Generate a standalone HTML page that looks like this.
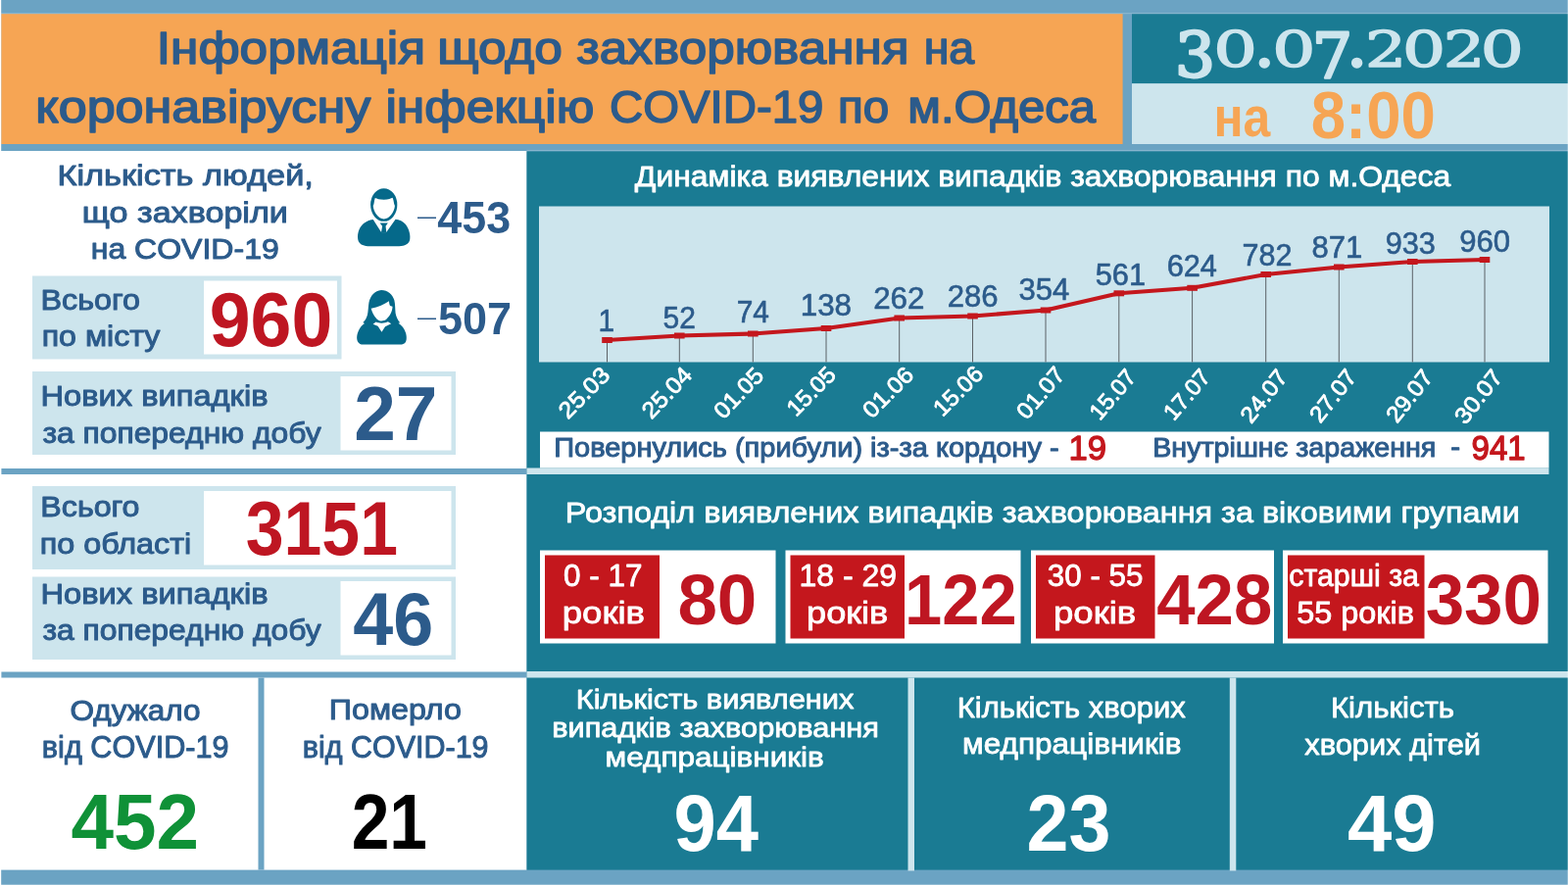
<!DOCTYPE html>
<html lang="uk">
<head>
<meta charset="utf-8">
<title>Інформація щодо захворювання на коронавірусну інфекцію COVID-19 по м.Одеса</title>
<style>
html,body{margin:0;padding:0;background:#6ba3c3;overflow:hidden}
svg{display:block}
text{white-space:pre}
</style>
</head>
<body>
<svg width="1600" height="903" viewBox="0 0 1600 903">
<rect x="0" y="0" width="1600" height="903" fill="#6ba3c3"/>
<rect x="1.2" y="14" width="1144.4" height="133" fill="#f6a554"/>
<rect x="0" y="13.2" width="1600" height="1" fill="#8fbad1"/>
<rect x="1155" y="14.3" width="445" height="70.9" fill="#1a7b93"/>
<rect x="1155" y="85.2" width="445" height="61.8" fill="#cde5ed"/>
<rect x="0" y="154" width="537.5" height="733.6" fill="#ffffff"/>
<rect x="0" y="0" width="1.2" height="903" fill="#ffffff"/>
<rect x="1.4" y="478" width="536.1" height="6" fill="#6ba3c3"/>
<rect x="1.4" y="685.5" width="536.1" height="6" fill="#6ba3c3"/>
<rect x="263.5" y="691.5" width="6" height="196.1" fill="#6ba3c3"/>
<rect x="537.5" y="153.2" width="1062.5" height="1.2" fill="#8fbad1"/>
<rect x="537.5" y="154.4" width="1062.5" height="733.2" fill="#1a7b93"/>
<rect x="537.5" y="477.5" width="1043" height="6.5" fill="#cde5ed"/>
<rect x="537.5" y="685" width="1062.5" height="6.5" fill="#cde5ed"/>
<rect x="926.5" y="691.5" width="6.5" height="197" fill="#cde5ed"/>
<rect x="1254.8" y="691.5" width="6.5" height="197" fill="#cde5ed"/>
<rect x="550" y="210.5" width="1031" height="159" fill="#cde5ed"/>
<rect x="551" y="440.5" width="1029.5" height="37" fill="#ffffff"/>
<rect x="33" y="281.5" width="315.5" height="85" fill="#cde5ed"/>
<rect x="208" y="286.5" width="136" height="75" fill="#ffffff"/>
<rect x="33" y="379" width="432" height="85" fill="#cde5ed"/>
<rect x="347.5" y="384" width="113" height="75.5" fill="#ffffff"/>
<rect x="33" y="496" width="432" height="85" fill="#cde5ed"/>
<rect x="208" y="501" width="252.5" height="75.5" fill="#ffffff"/>
<rect x="33" y="588.5" width="432" height="84.5" fill="#cde5ed"/>
<rect x="347.5" y="593" width="113" height="75.5" fill="#ffffff"/>
<rect x="551" y="561.5" width="240.5" height="95" fill="#ffffff"/>
<rect x="556" y="566.5" width="117" height="85" fill="#c4171d"/>
<rect x="801.5" y="561.5" width="240" height="95" fill="#ffffff"/>
<rect x="806.5" y="566.5" width="116.5" height="85" fill="#c4171d"/>
<rect x="1052" y="561.5" width="248" height="95" fill="#ffffff"/>
<rect x="1057" y="566.5" width="121.5" height="85" fill="#c4171d"/>
<rect x="1309" y="561.5" width="270.5" height="95" fill="#ffffff"/>
<rect x="1314" y="566.5" width="139.5" height="85" fill="#c4171d"/>
<line x1="619.5" y1="347" x2="619.5" y2="369.5" stroke="#5b6166" stroke-width="1"/>
<line x1="693.3" y1="342.5" x2="693.3" y2="369.5" stroke="#5b6166" stroke-width="1"/>
<line x1="768.3" y1="340.5" x2="768.3" y2="369.5" stroke="#5b6166" stroke-width="1"/>
<line x1="843" y1="335" x2="843" y2="369.5" stroke="#5b6166" stroke-width="1"/>
<line x1="917.7" y1="324.5" x2="917.7" y2="369.5" stroke="#5b6166" stroke-width="1"/>
<line x1="992.5" y1="322.5" x2="992.5" y2="369.5" stroke="#5b6166" stroke-width="1"/>
<line x1="1067" y1="316.5" x2="1067" y2="369.5" stroke="#5b6166" stroke-width="1"/>
<line x1="1141.8" y1="299.3" x2="1141.8" y2="369.5" stroke="#5b6166" stroke-width="1"/>
<line x1="1216.6" y1="293.8" x2="1216.6" y2="369.5" stroke="#5b6166" stroke-width="1"/>
<line x1="1291.7" y1="280" x2="1291.7" y2="369.5" stroke="#5b6166" stroke-width="1"/>
<line x1="1366.3" y1="272.5" x2="1366.3" y2="369.5" stroke="#5b6166" stroke-width="1"/>
<line x1="1441.3" y1="267" x2="1441.3" y2="369.5" stroke="#5b6166" stroke-width="1"/>
<line x1="1515" y1="265" x2="1515" y2="369.5" stroke="#5b6166" stroke-width="1"/>
<polyline points="619.5,347 693.3,342.5 768.3,340.5 843,335 917.7,324.5 992.5,322.5 1067,316.5 1141.8,299.3 1216.6,293.8 1291.7,280 1366.3,272.5 1441.3,267 1515,265" fill="none" stroke="#c4171d" stroke-width="4.1" stroke-linejoin="round"/>
<rect x="614.2" y="344" width="10.6" height="6" fill="#c4171d"/>
<rect x="688" y="339.5" width="10.6" height="6" fill="#c4171d"/>
<rect x="763" y="337.5" width="10.6" height="6" fill="#c4171d"/>
<rect x="837.7" y="332" width="10.6" height="6" fill="#c4171d"/>
<rect x="912.4" y="321.5" width="10.6" height="6" fill="#c4171d"/>
<rect x="987.2" y="319.5" width="10.6" height="6" fill="#c4171d"/>
<rect x="1061.7" y="313.5" width="10.6" height="6" fill="#c4171d"/>
<rect x="1136.5" y="296.3" width="10.6" height="6" fill="#c4171d"/>
<rect x="1211.3" y="290.8" width="10.6" height="6" fill="#c4171d"/>
<rect x="1286.4" y="277" width="10.6" height="6" fill="#c4171d"/>
<rect x="1361" y="269.5" width="10.6" height="6" fill="#c4171d"/>
<rect x="1436" y="264" width="10.6" height="6" fill="#c4171d"/>
<rect x="1509.7" y="262" width="10.6" height="6" fill="#c4171d"/>
<g transform="translate(355 185) scale(0.08306)" fill="#05698a">
<path d="M310 470C250 478 190 505 150 570C120 620 112 700 132 740C150 778 200 797 270 797L630 797C700 795 745 772 760 722C772 670 755 590 710 530C680 495 630 470 585 468L470 630L412 630Z"/>
<path d="M393 512L492 512L464 550L474 634L408 634L423 550Z"/>
<ellipse cx="442" cy="289" rx="164" ry="203"/>
<path fill="#ffffff" d="M334 204C320 240 326 275 310 302C316 380 374 462 442 464C512 462 570 380 577 302C563 275 566 238 549 202C528 211 500 224 442 226C390 224 358 214 334 204Z"/>
</g>
<g transform="translate(355 288) scale(0.08306)" fill="#05698a">
<path d="M410 95C330 100 275 165 258 250C250 300 250 360 240 400C230 440 210 470 185 495L205 505C170 525 135 575 118 630C105 675 105 735 150 758C160 763 172 765 185 765L650 765C665 765 690 758 705 740C725 715 722 660 712 625C695 570 665 530 620 503L640 497C610 465 592 420 585 380C580 330 582 270 570 220C550 150 490 95 410 95Z"/>
<path fill="#ffffff" d="M285 322C370 305 450 270 505 232C508 255 510 275 518 288L548 298C548 345 525 405 470 458C450 470 430 475 415 475C390 475 370 462 355 450C315 410 295 360 285 322Z"/>
<path fill="#ffffff" d="M345 488L308 515L368 538L415 612L458 545L532 508L492 485C460 506 380 508 345 488Z"/>
</g>

<text y="65.4" font-size="46.8" fill="#2c5b8b" font-family="'Liberation Sans', sans-serif" font-weight="400" stroke="#2c5b8b" stroke-width="1.6" stroke-linejoin="round"><tspan x="159.88" textLength="274.05" lengthAdjust="spacingAndGlyphs">Інформація</tspan> <tspan x="446.19" textLength="127.74" lengthAdjust="spacingAndGlyphs">щодо</tspan> <tspan x="588.38" textLength="339.23" lengthAdjust="spacingAndGlyphs">захворювання</tspan> <tspan x="942.68" textLength="51.52" lengthAdjust="spacingAndGlyphs">на</tspan></text>
<text y="124.9" font-size="46.8" fill="#2c5b8b" font-family="'Liberation Sans', sans-serif" font-weight="400" stroke="#2c5b8b" stroke-width="1.6" stroke-linejoin="round"><tspan x="36.30" textLength="341.91" lengthAdjust="spacingAndGlyphs">коронавірусну</tspan> <tspan x="393.43" textLength="212.87" lengthAdjust="spacingAndGlyphs">інфекцію</tspan> <tspan x="622.07" textLength="218.19" lengthAdjust="spacingAndGlyphs">COVID-19</tspan> <tspan x="855.13" textLength="52.17" lengthAdjust="spacingAndGlyphs">по</tspan> <tspan x="926.31" textLength="191.69" lengthAdjust="spacingAndGlyphs">м.Одеса</tspan></text>
<text fill="#cde5ed" font-family="'DejaVu Serif', 'Liberation Serif', serif" font-weight="400" stroke="#cde5ed" stroke-width="1.4" stroke-linejoin="round"><tspan x="1199.09" y="78.57" font-size="63.84" textLength="41.07" lengthAdjust="spacingAndGlyphs" stroke-width="2.6">3</tspan><tspan x="1238.18" y="68.37" font-size="50.36" textLength="44.70" lengthAdjust="spacingAndGlyphs">0</tspan><tspan x="1278.39" y="68.03" font-size="73.58" textLength="24.03" lengthAdjust="spacingAndGlyphs">.</tspan><tspan x="1298.33" y="68.37" font-size="50.36" textLength="44.10" lengthAdjust="spacingAndGlyphs">0</tspan><tspan x="1338.65" y="79.47" font-size="64.37" textLength="41.49" lengthAdjust="spacingAndGlyphs" stroke-width="2.6">7</tspan><tspan x="1372.44" y="68.03" font-size="73.58" textLength="24.24" lengthAdjust="spacingAndGlyphs">.</tspan><tspan x="1392.97" y="68.33" font-size="50.09" textLength="42.20" lengthAdjust="spacingAndGlyphs">2</tspan><tspan x="1431.03" y="68.37" font-size="50.36" textLength="44.10" lengthAdjust="spacingAndGlyphs">0</tspan><tspan x="1472.83" y="68.33" font-size="50.09" textLength="42.71" lengthAdjust="spacingAndGlyphs">2</tspan><tspan x="1510.83" y="68.37" font-size="50.36" textLength="44.10" lengthAdjust="spacingAndGlyphs">0</tspan></text>
<text x="1238.40" y="138.8" font-size="57" fill="#f6a554" textLength="57.82" lengthAdjust="spacingAndGlyphs" font-weight="700" font-family="'Liberation Sans', sans-serif">на</text>
<text x="1337.75" y="140.7" font-size="69" fill="#f6a554" textLength="127.20" lengthAdjust="spacingAndGlyphs" font-weight="700" font-family="'Liberation Sans', sans-serif">8:00</text>
<text x="58.46" y="188.6" font-size="30" fill="#2c5b8b" textLength="261.41" lengthAdjust="spacingAndGlyphs" font-weight="400" font-family="'Liberation Sans', sans-serif" stroke="#2c5b8b" stroke-width="1" stroke-linejoin="round">Кількість людей,</text>
<text x="83.85" y="226.6" font-size="30" fill="#2c5b8b" textLength="210.08" lengthAdjust="spacingAndGlyphs" font-weight="400" font-family="'Liberation Sans', sans-serif" stroke="#2c5b8b" stroke-width="1" stroke-linejoin="round">що захворіли</text>
<text x="92.72" y="263.6" font-size="30" fill="#2c5b8b" textLength="192.05" lengthAdjust="spacingAndGlyphs" font-weight="400" font-family="'Liberation Sans', sans-serif" stroke="#2c5b8b" stroke-width="1" stroke-linejoin="round">на COVID-19</text>
<text x="41.60" y="315.5" font-size="30" fill="#2c5b8b" textLength="101.44" lengthAdjust="spacingAndGlyphs" font-weight="400" font-family="'Liberation Sans', sans-serif" stroke="#2c5b8b" stroke-width="1" stroke-linejoin="round">Всього</text>
<text x="42.71" y="353" font-size="30" fill="#2c5b8b" textLength="120.64" lengthAdjust="spacingAndGlyphs" font-weight="400" font-family="'Liberation Sans', sans-serif" stroke="#2c5b8b" stroke-width="1" stroke-linejoin="round">по місту</text>
<text x="213.68" y="353.2" font-size="78" fill="#be1622" textLength="125.60" lengthAdjust="spacingAndGlyphs" font-weight="700" font-family="'Liberation Sans', sans-serif">960</text>
<text fill="#2c5b8b" font-family="'Liberation Sans', sans-serif" font-weight="400"><tspan x="426.00" y="228.30" font-size="22.78" textLength="19.01" lengthAdjust="spacingAndGlyphs">–</tspan></text>
<text x="446.36" y="238.3" font-size="47" fill="#2c5b8b" textLength="74.71" lengthAdjust="spacingAndGlyphs" font-weight="700" font-family="'Liberation Sans', sans-serif">453</text>
<text fill="#2c5b8b" font-family="'Liberation Sans', sans-serif" font-weight="400"><tspan x="426.00" y="331.40" font-size="22.78" textLength="19.01" lengthAdjust="spacingAndGlyphs">–</tspan></text>
<text x="446.90" y="341.2" font-size="47" fill="#2c5b8b" textLength="75.10" lengthAdjust="spacingAndGlyphs" font-weight="700" font-family="'Liberation Sans', sans-serif">507</text>
<text x="41.57" y="413.75" font-size="30" fill="#2c5b8b" textLength="231.91" lengthAdjust="spacingAndGlyphs" font-weight="400" font-family="'Liberation Sans', sans-serif" stroke="#2c5b8b" stroke-width="1" stroke-linejoin="round">Нових випадків</text>
<text x="43.40" y="452" font-size="30" fill="#2c5b8b" textLength="284.22" lengthAdjust="spacingAndGlyphs" font-weight="400" font-family="'Liberation Sans', sans-serif" stroke="#2c5b8b" stroke-width="1" stroke-linejoin="round">за попередню добу</text>
<text x="361.13" y="448.5" font-size="78" fill="#2c5b8b" textLength="85.24" lengthAdjust="spacingAndGlyphs" font-weight="700" font-family="'Liberation Sans', sans-serif">27</text>
<text x="41.35" y="527" font-size="30" fill="#2c5b8b" textLength="101.18" lengthAdjust="spacingAndGlyphs" font-weight="400" font-family="'Liberation Sans', sans-serif" stroke="#2c5b8b" stroke-width="1" stroke-linejoin="round">Всього</text>
<text x="40.70" y="564.5" font-size="30" fill="#2c5b8b" textLength="154.53" lengthAdjust="spacingAndGlyphs" font-weight="400" font-family="'Liberation Sans', sans-serif" stroke="#2c5b8b" stroke-width="1" stroke-linejoin="round">по області</text>
<text x="250.71" y="566" font-size="78" fill="#be1622" textLength="155.25" lengthAdjust="spacingAndGlyphs" font-weight="700" font-family="'Liberation Sans', sans-serif">3151</text>
<text x="41.57" y="615.5" font-size="30" fill="#2c5b8b" textLength="231.91" lengthAdjust="spacingAndGlyphs" font-weight="400" font-family="'Liberation Sans', sans-serif" stroke="#2c5b8b" stroke-width="1" stroke-linejoin="round">Нових випадків</text>
<text x="43.40" y="653" font-size="30" fill="#2c5b8b" textLength="284.22" lengthAdjust="spacingAndGlyphs" font-weight="400" font-family="'Liberation Sans', sans-serif" stroke="#2c5b8b" stroke-width="1" stroke-linejoin="round">за попередню добу</text>
<text x="360.28" y="657.5" font-size="76" fill="#2c5b8b" textLength="82.00" lengthAdjust="spacingAndGlyphs" font-weight="700" font-family="'Liberation Sans', sans-serif">46</text>
<text x="71.45" y="734.5" font-size="30" fill="#2c5b8b" textLength="133.14" lengthAdjust="spacingAndGlyphs" font-weight="400" font-family="'Liberation Sans', sans-serif" stroke="#2c5b8b" stroke-width="1" stroke-linejoin="round">Одужало</text>
<text x="42.85" y="772.5" font-size="31" fill="#2c5b8b" textLength="190.68" lengthAdjust="spacingAndGlyphs" font-weight="400" font-family="'Liberation Sans', sans-serif" stroke="#2c5b8b" stroke-width="1" stroke-linejoin="round">від COVID-19</text>
<text x="72.45" y="865.6" font-size="80" fill="#0f9137" textLength="130.63" lengthAdjust="spacingAndGlyphs" font-weight="700" font-family="'Liberation Sans', sans-serif">452</text>
<text x="335.85" y="734.25" font-size="30" fill="#2c5b8b" textLength="134.95" lengthAdjust="spacingAndGlyphs" font-weight="400" font-family="'Liberation Sans', sans-serif" stroke="#2c5b8b" stroke-width="1" stroke-linejoin="round">Померло</text>
<text x="308.86" y="772.5" font-size="31" fill="#2c5b8b" textLength="189.66" lengthAdjust="spacingAndGlyphs" font-weight="400" font-family="'Liberation Sans', sans-serif" stroke="#2c5b8b" stroke-width="1" stroke-linejoin="round">від COVID-19</text>
<text x="358.68" y="866" font-size="80" fill="#000000" textLength="77.33" lengthAdjust="spacingAndGlyphs" font-weight="700" font-family="'Liberation Sans', sans-serif">21</text>
<text x="647.87" y="189.6" font-size="28.8" fill="#ffffff" textLength="832.35" lengthAdjust="spacingAndGlyphs" font-weight="400" font-family="'Liberation Sans', sans-serif" stroke="#ffffff" stroke-width="0.8" stroke-linejoin="round">Динаміка виявлених випадків захворювання по м.Одеса</text>
<text x="610.57" y="337.6" font-size="31" fill="#2c5b8b" textLength="16.63" lengthAdjust="spacingAndGlyphs" font-weight="400" font-family="'Liberation Sans', sans-serif" stroke="#2c5b8b" stroke-width="0.6" stroke-linejoin="round">1</text>
<text x="676.53" y="334.6" font-size="31" fill="#2c5b8b" textLength="33.33" lengthAdjust="spacingAndGlyphs" font-weight="400" font-family="'Liberation Sans', sans-serif" stroke="#2c5b8b" stroke-width="0.6" stroke-linejoin="round">52</text>
<text x="751.71" y="329.1" font-size="31" fill="#2c5b8b" textLength="33.25" lengthAdjust="spacingAndGlyphs" font-weight="400" font-family="'Liberation Sans', sans-serif" stroke="#2c5b8b" stroke-width="0.6" stroke-linejoin="round">74</text>
<text x="816.73" y="322.1" font-size="31" fill="#2c5b8b" textLength="52.34" lengthAdjust="spacingAndGlyphs" font-weight="400" font-family="'Liberation Sans', sans-serif" stroke="#2c5b8b" stroke-width="0.6" stroke-linejoin="round">138</text>
<text x="891.15" y="315.1" font-size="31" fill="#2c5b8b" textLength="52.25" lengthAdjust="spacingAndGlyphs" font-weight="400" font-family="'Liberation Sans', sans-serif" stroke="#2c5b8b" stroke-width="0.6" stroke-linejoin="round">262</text>
<text x="966.66" y="313.35" font-size="31" fill="#2c5b8b" textLength="51.90" lengthAdjust="spacingAndGlyphs" font-weight="400" font-family="'Liberation Sans', sans-serif" stroke="#2c5b8b" stroke-width="0.6" stroke-linejoin="round">286</text>
<text x="1039.50" y="305.85" font-size="31" fill="#2c5b8b" textLength="51.72" lengthAdjust="spacingAndGlyphs" font-weight="400" font-family="'Liberation Sans', sans-serif" stroke="#2c5b8b" stroke-width="0.6" stroke-linejoin="round">354</text>
<text x="1117.76" y="290.85" font-size="31" fill="#2c5b8b" textLength="51.29" lengthAdjust="spacingAndGlyphs" font-weight="400" font-family="'Liberation Sans', sans-serif" stroke="#2c5b8b" stroke-width="0.6" stroke-linejoin="round">561</text>
<text x="1190.68" y="282.1" font-size="31" fill="#2c5b8b" textLength="51.29" lengthAdjust="spacingAndGlyphs" font-weight="400" font-family="'Liberation Sans', sans-serif" stroke="#2c5b8b" stroke-width="0.6" stroke-linejoin="round">624</text>
<text x="1267.44" y="270.85" font-size="31" fill="#2c5b8b" textLength="50.93" lengthAdjust="spacingAndGlyphs" font-weight="400" font-family="'Liberation Sans', sans-serif" stroke="#2c5b8b" stroke-width="0.6" stroke-linejoin="round">782</text>
<text x="1338.50" y="263.35" font-size="31" fill="#2c5b8b" textLength="51.81" lengthAdjust="spacingAndGlyphs" font-weight="400" font-family="'Liberation Sans', sans-serif" stroke="#2c5b8b" stroke-width="0.6" stroke-linejoin="round">871</text>
<text x="1413.68" y="258.85" font-size="31" fill="#2c5b8b" textLength="51.11" lengthAdjust="spacingAndGlyphs" font-weight="400" font-family="'Liberation Sans', sans-serif" stroke="#2c5b8b" stroke-width="0.6" stroke-linejoin="round">933</text>
<text x="1489.16" y="257.1" font-size="31" fill="#2c5b8b" textLength="51.90" lengthAdjust="spacingAndGlyphs" font-weight="400" font-family="'Liberation Sans', sans-serif" stroke="#2c5b8b" stroke-width="0.6" stroke-linejoin="round">960</text>
<text transform="translate(579.60 428.43) rotate(-45)" x="0.00" y="0" font-size="23.5" fill="#ffffff" stroke="#ffffff" stroke-width="0.8" stroke-linejoin="round" font-family="'Liberation Sans', sans-serif" font-weight="400" textLength="62.42" lengthAdjust="spacingAndGlyphs">25.03</text>
<text transform="translate(664.65 428.48) rotate(-46)" x="0.00" y="0" font-size="23.5" fill="#ffffff" stroke="#ffffff" stroke-width="0.8" stroke-linejoin="round" font-family="'Liberation Sans', sans-serif" font-weight="400" textLength="61.92" lengthAdjust="spacingAndGlyphs">25.04</text>
<text transform="translate(738.13 428.65) rotate(-46)" x="0.00" y="0" font-size="23.5" fill="#ffffff" stroke="#ffffff" stroke-width="0.8" stroke-linejoin="round" font-family="'Liberation Sans', sans-serif" font-weight="400" textLength="61.43" lengthAdjust="spacingAndGlyphs">01.05</text>
<text transform="translate(812.18 426.02) rotate(-45)" x="0.00" y="0" font-size="23.5" fill="#ffffff" stroke="#ffffff" stroke-width="0.8" stroke-linejoin="round" font-family="'Liberation Sans', sans-serif" font-weight="400" textLength="59.59" lengthAdjust="spacingAndGlyphs">15.05</text>
<text transform="translate(889.77 427.88) rotate(-45)" x="0.00" y="0" font-size="23.5" fill="#ffffff" stroke="#ffffff" stroke-width="0.8" stroke-linejoin="round" font-family="'Liberation Sans', sans-serif" font-weight="400" textLength="62.15" lengthAdjust="spacingAndGlyphs">01.06</text>
<text transform="translate(961.73 426.00) rotate(-45)" x="0.00" y="0" font-size="23.5" fill="#ffffff" stroke="#ffffff" stroke-width="0.8" stroke-linejoin="round" font-family="'Liberation Sans', sans-serif" font-weight="400" textLength="60.76" lengthAdjust="spacingAndGlyphs">15.06</text>
<text transform="translate(1047.78 429.15) rotate(-49)" x="0.00" y="0" font-size="23.5" fill="#ffffff" stroke="#ffffff" stroke-width="0.8" stroke-linejoin="round" font-family="'Liberation Sans', sans-serif" font-weight="400" textLength="61.24" lengthAdjust="spacingAndGlyphs">01.07</text>
<text transform="translate(1122.32 429.98) rotate(-49.5)" x="0.00" y="0" font-size="23.5" fill="#ffffff" stroke="#ffffff" stroke-width="0.8" stroke-linejoin="round" font-family="'Liberation Sans', sans-serif" font-weight="400" textLength="58.76" lengthAdjust="spacingAndGlyphs">15.07</text>
<text transform="translate(1197.85 430.15) rotate(-49.5)" x="0.00" y="0" font-size="23.5" fill="#ffffff" stroke="#ffffff" stroke-width="0.8" stroke-linejoin="round" font-family="'Liberation Sans', sans-serif" font-weight="400" textLength="59.16" lengthAdjust="spacingAndGlyphs">17.07</text>
<text transform="translate(1276.85 433.17) rotate(-51.5)" x="0.00" y="0" font-size="23.5" fill="#ffffff" stroke="#ffffff" stroke-width="0.8" stroke-linejoin="round" font-family="'Liberation Sans', sans-serif" font-weight="400" textLength="61.42" lengthAdjust="spacingAndGlyphs">24.07</text>
<text transform="translate(1347.20 432.75) rotate(-51.5)" x="0.00" y="0" font-size="23.5" fill="#ffffff" stroke="#ffffff" stroke-width="0.8" stroke-linejoin="round" font-family="'Liberation Sans', sans-serif" font-weight="400" textLength="61.37" lengthAdjust="spacingAndGlyphs">27.07</text>
<text transform="translate(1425.52 432.83) rotate(-51.5)" x="0.00" y="0" font-size="23.5" fill="#ffffff" stroke="#ffffff" stroke-width="0.8" stroke-linejoin="round" font-family="'Liberation Sans', sans-serif" font-weight="400" textLength="60.83" lengthAdjust="spacingAndGlyphs">29.07</text>
<text transform="translate(1495.17 434.25) rotate(-51.5)" x="0.00" y="0" font-size="23.5" fill="#ffffff" stroke="#ffffff" stroke-width="0.8" stroke-linejoin="round" font-family="'Liberation Sans', sans-serif" font-weight="400" textLength="63.02" lengthAdjust="spacingAndGlyphs">30.07</text>
<text x="565.26" y="466" font-size="27.8" fill="#2c5b8b" textLength="515.36" lengthAdjust="spacingAndGlyphs" font-weight="400" font-family="'Liberation Sans', sans-serif" stroke="#2c5b8b" stroke-width="1" stroke-linejoin="round">Повернулись (прибули) із-за кордону -</text>
<text x="1090.55" y="469.2" font-size="35.5" fill="#c4171d" textLength="38.58" lengthAdjust="spacingAndGlyphs" font-weight="400" font-family="'Liberation Sans', sans-serif" stroke="#c4171d" stroke-width="1.3" stroke-linejoin="round">19</text>
<text x="1176.28" y="466" font-size="27.8" fill="#2c5b8b" textLength="289.11" lengthAdjust="spacingAndGlyphs" font-weight="400" font-family="'Liberation Sans', sans-serif" stroke="#2c5b8b" stroke-width="1" stroke-linejoin="round">Внутрішнє зараження</text>
<text x="1480.32" y="466.25" font-size="29" fill="#2c5b8b" textLength="9.85" lengthAdjust="spacingAndGlyphs" font-weight="400" font-family="'Liberation Sans', sans-serif" stroke="#2c5b8b" stroke-width="1" stroke-linejoin="round">-</text>
<text x="1501.57" y="469.2" font-size="35.5" fill="#c4171d" textLength="55.08" lengthAdjust="spacingAndGlyphs" font-weight="400" font-family="'Liberation Sans', sans-serif" stroke="#c4171d" stroke-width="1.3" stroke-linejoin="round">941</text>
<text x="576.75" y="532.8" font-size="28.8" fill="#ffffff" textLength="974.19" lengthAdjust="spacingAndGlyphs" font-weight="400" font-family="'Liberation Sans', sans-serif" stroke="#ffffff" stroke-width="0.8" stroke-linejoin="round">Розподіл виявлених випадків захворювання за віковими групами</text>
<text x="575.07" y="598" font-size="31" fill="#ffffff" textLength="80.47" lengthAdjust="spacingAndGlyphs" font-weight="400" font-family="'Liberation Sans', sans-serif" stroke="#ffffff" stroke-width="0.8" stroke-linejoin="round">0 - 17</text>
<text x="573.78" y="636.25" font-size="31" fill="#ffffff" textLength="84.23" lengthAdjust="spacingAndGlyphs" font-weight="400" font-family="'Liberation Sans', sans-serif" stroke="#ffffff" stroke-width="0.8" stroke-linejoin="round">років</text>
<text x="691.42" y="636.5" font-size="73" fill="#be1622" textLength="80.94" lengthAdjust="spacingAndGlyphs" font-weight="700" font-family="'Liberation Sans', sans-serif">80</text>
<text x="815.44" y="598" font-size="31" fill="#ffffff" textLength="99.53" lengthAdjust="spacingAndGlyphs" font-weight="400" font-family="'Liberation Sans', sans-serif" stroke="#ffffff" stroke-width="0.8" stroke-linejoin="round">18 - 29</text>
<text x="823.06" y="636.25" font-size="31" fill="#ffffff" textLength="83.19" lengthAdjust="spacingAndGlyphs" font-weight="400" font-family="'Liberation Sans', sans-serif" stroke="#ffffff" stroke-width="0.8" stroke-linejoin="round">років</text>
<text x="923.11" y="636.5" font-size="73" fill="#be1622" textLength="114.52" lengthAdjust="spacingAndGlyphs" font-weight="700" font-family="'Liberation Sans', sans-serif">122</text>
<text x="1068.83" y="598" font-size="31" fill="#ffffff" textLength="97.53" lengthAdjust="spacingAndGlyphs" font-weight="400" font-family="'Liberation Sans', sans-serif" stroke="#ffffff" stroke-width="0.8" stroke-linejoin="round">30 - 55</text>
<text x="1075.03" y="636.25" font-size="31" fill="#ffffff" textLength="84.23" lengthAdjust="spacingAndGlyphs" font-weight="400" font-family="'Liberation Sans', sans-serif" stroke="#ffffff" stroke-width="0.8" stroke-linejoin="round">років</text>
<text x="1180.28" y="636.5" font-size="73" fill="#be1622" textLength="118.04" lengthAdjust="spacingAndGlyphs" font-weight="700" font-family="'Liberation Sans', sans-serif">428</text>
<text x="1315.27" y="598" font-size="31" fill="#ffffff" textLength="132.64" lengthAdjust="spacingAndGlyphs" font-weight="400" font-family="'Liberation Sans', sans-serif" stroke="#ffffff" stroke-width="0.8" stroke-linejoin="round">старші за</text>
<text x="1323.20" y="636.25" font-size="31" fill="#ffffff" textLength="119.66" lengthAdjust="spacingAndGlyphs" font-weight="400" font-family="'Liberation Sans', sans-serif" stroke="#ffffff" stroke-width="0.8" stroke-linejoin="round">55 років</text>
<text x="1454.63" y="636.5" font-size="73" fill="#be1622" textLength="118.42" lengthAdjust="spacingAndGlyphs" font-weight="700" font-family="'Liberation Sans', sans-serif">330</text>
<text x="587.80" y="723" font-size="28" fill="#ffffff" textLength="283.50" lengthAdjust="spacingAndGlyphs" font-weight="400" font-family="'Liberation Sans', sans-serif" stroke="#ffffff" stroke-width="0.8" stroke-linejoin="round">Кількість виявлених</text>
<text x="563.17" y="751.8" font-size="28" fill="#ffffff" textLength="333.85" lengthAdjust="spacingAndGlyphs" font-weight="400" font-family="'Liberation Sans', sans-serif" stroke="#ffffff" stroke-width="0.8" stroke-linejoin="round">випадків захворювання</text>
<text x="617.62" y="781.8" font-size="28" fill="#ffffff" textLength="223.24" lengthAdjust="spacingAndGlyphs" font-weight="400" font-family="'Liberation Sans', sans-serif" stroke="#ffffff" stroke-width="0.8" stroke-linejoin="round">медпрацівників</text>
<text x="687.45" y="867.8" font-size="81.5" fill="#ffffff" textLength="86.61" lengthAdjust="spacingAndGlyphs" font-weight="700" font-family="'Liberation Sans', sans-serif">94</text>
<text x="976.68" y="731.5" font-size="30" fill="#ffffff" textLength="233.15" lengthAdjust="spacingAndGlyphs" font-weight="400" font-family="'Liberation Sans', sans-serif" stroke="#ffffff" stroke-width="0.8" stroke-linejoin="round">Кількість хворих</text>
<text x="982.00" y="769" font-size="30" fill="#ffffff" textLength="223.49" lengthAdjust="spacingAndGlyphs" font-weight="400" font-family="'Liberation Sans', sans-serif" stroke="#ffffff" stroke-width="0.8" stroke-linejoin="round">медпрацівників</text>
<text x="1047.47" y="867.8" font-size="81.5" fill="#ffffff" textLength="85.86" lengthAdjust="spacingAndGlyphs" font-weight="700" font-family="'Liberation Sans', sans-serif">23</text>
<text x="1357.92" y="731.5" font-size="30" fill="#ffffff" textLength="126.13" lengthAdjust="spacingAndGlyphs" font-weight="400" font-family="'Liberation Sans', sans-serif" stroke="#ffffff" stroke-width="0.8" stroke-linejoin="round">Кількість</text>
<text x="1331.25" y="770" font-size="30" fill="#ffffff" textLength="179.79" lengthAdjust="spacingAndGlyphs" font-weight="400" font-family="'Liberation Sans', sans-serif" stroke="#ffffff" stroke-width="0.8" stroke-linejoin="round">хворих дітей</text>
<text x="1374.92" y="867.8" font-size="81.5" fill="#ffffff" textLength="90.57" lengthAdjust="spacingAndGlyphs" font-weight="700" font-family="'Liberation Sans', sans-serif">49</text>
<rect x="1599" y="0" width="1" height="903" fill="#fff" fill-opacity="0.25"/>
<rect x="0" y="902" width="1600" height="1" fill="#fff" fill-opacity="0.25"/>
</svg>
</body>
</html>
